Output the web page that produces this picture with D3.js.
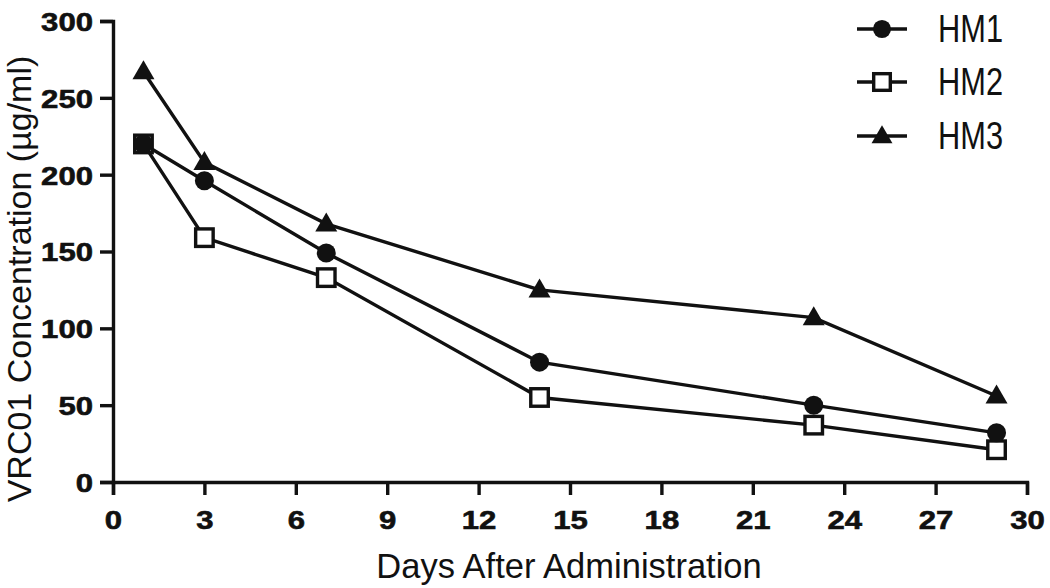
<!DOCTYPE html>
<html>
<head>
<meta charset="utf-8">
<script src="https://cdn.jsdelivr.net/npm/d3@7"></script>
<style>
  html, body { margin: 0; padding: 0; background: #fff; }
  svg { display: block; font-family: "Liberation Sans", Arial, Helvetica, sans-serif; }
</style>
</head>
<body>
<svg id="chart" width="1050" height="588"></svg>
<script>
// ---- data ----
const days = [1, 3, 7, 14, 23, 29];
const hm1 = [220, 196, 149, 78, 50, 32];
const hm2 = [220, 159, 133, 55, 37, 21];
const hm3 = [267, 208, 168, 125, 107, 56];
const seriesNames = ["HM1", "HM2", "HM3"];
const xTicks = [0, 3, 6, 9, 12, 15, 18, 21, 24, 27, 30];
const yTicks = [0, 50, 100, 150, 200, 250, 300];
const xTitle = "Days After Administration";
const yTitle = "VRC01 Concentration (µg/ml)";

const ink = "#111";
const svg = d3.select("#chart");

const x = d3.scaleLinear().domain([0, 30]).range([113, 1027]);
const y = d3.scaleLinear().domain([0, 300]).range([482, 21]);

// axes
const yAxis = d3.axisLeft(y).tickValues(yTicks).tickSize(13).tickPadding(7).tickFormat(d3.format("d"));
const xAxis = d3.axisBottom(x).tickValues(xTicks).tickSize(13).tickPadding(16).tickFormat(d3.format("d"));

const gy = svg.append("g").attr("transform", `translate(${x(0)},0)`).call(yAxis);
const gx = svg.append("g").attr("transform", `translate(0,${y(0)})`).call(xAxis);

[gx, gy].forEach(g => {
  g.select(".domain").attr("stroke", ink).attr("stroke-width", 3.4);
  g.selectAll(".tick line").attr("stroke", ink).attr("stroke-width", 3.4);
  g.selectAll(".tick text")
    .attr("fill", ink)
    .attr("font-size", 26)
    .attr("font-weight", "bold")
    .attr("font-family", "'Liberation Sans', Arial, sans-serif")
    .attr("stroke", ink)
    .attr("stroke-width", 0.6)
    .attr("textLength", function() { return this.textContent.length * 17.3; })
    .attr("lengthAdjust", "spacingAndGlyphs");
});
gy.selectAll(".tick text").attr("dy", "0.36em");
gx.selectAll(".tick text").attr("dy", "0.71em");

// lines
const series = [
  { name: seriesNames[0], vals: hm1, shape: "circle" },
  { name: seriesNames[1], vals: hm2, shape: "square" },
  { name: seriesNames[2], vals: hm3, shape: "triangle" }
];

const line = d3.line().x(d => x(d[0])).y(d => y(d[1]));
series.forEach(s => {
  svg.append("path")
    .datum(days.map((d, i) => [d, s.vals[i]]))
    .attr("d", line)
    .attr("fill", "none")
    .attr("stroke", ink)
    .attr("stroke-width", 3.4);
});

function drawMarker(g, shape, cx, cy, scale) {
  const k = scale || 1;
  if (shape === "circle") {
    g.append("circle").attr("cx", cx).attr("cy", cy).attr("r", 9.5 * k).attr("fill", ink);
  } else if (shape === "square") {
    const s = 17.5 * k;
    g.append("rect").attr("x", cx - s / 2).attr("y", cy - s / 2).attr("width", s).attr("height", s)
      .attr("fill", "#fff").attr("stroke", ink).attr("stroke-width", 3.4);
  } else {
    const w = 22 * k, h = 19 * k;
    g.append("path")
      .attr("d", `M${cx},${cy - h * 0.6} L${cx + w / 2},${cy + h * 0.4} L${cx - w / 2},${cy + h * 0.4} Z`)
      .attr("fill", ink);
  }
}

// markers: squares first, circles on top, triangles
const order = [1, 0, 2];
order.forEach(si => {
  const s = series[si];
  const g = svg.append("g");
  days.forEach((d, i) => drawMarker(g, s.shape, x(d), y(s.vals[i])));
});

// legend
const legendY = [29, 82, 136];
series.forEach((s, i) => {
  const g = svg.append("g");
  g.append("line").attr("x1", 857).attr("x2", 907).attr("y1", legendY[i]).attr("y2", legendY[i])
    .attr("stroke", ink).attr("stroke-width", 3.4);
  drawMarker(g, s.shape, 882, legendY[i], 0.95);
  g.append("text").attr("x", 938).attr("y", legendY[i] + 13)
    .attr("font-size", 38)
    .attr("fill", ink)
    .attr("textLength", 65)
    .attr("lengthAdjust", "spacingAndGlyphs")
    .text(s.name);
});

// titles
svg.append("text")
  .attr("x", 569).attr("y", 578)
  .attr("text-anchor", "middle")
  .attr("font-size", 34.5)
  .attr("fill", ink)
  .text(xTitle);

svg.append("text")
  .attr("transform", "translate(31,279) rotate(-90)")
  .attr("text-anchor", "middle")
  .attr("font-size", 34)
  .attr("fill", ink)
  .text(yTitle);
</script>
</body>
</html>
